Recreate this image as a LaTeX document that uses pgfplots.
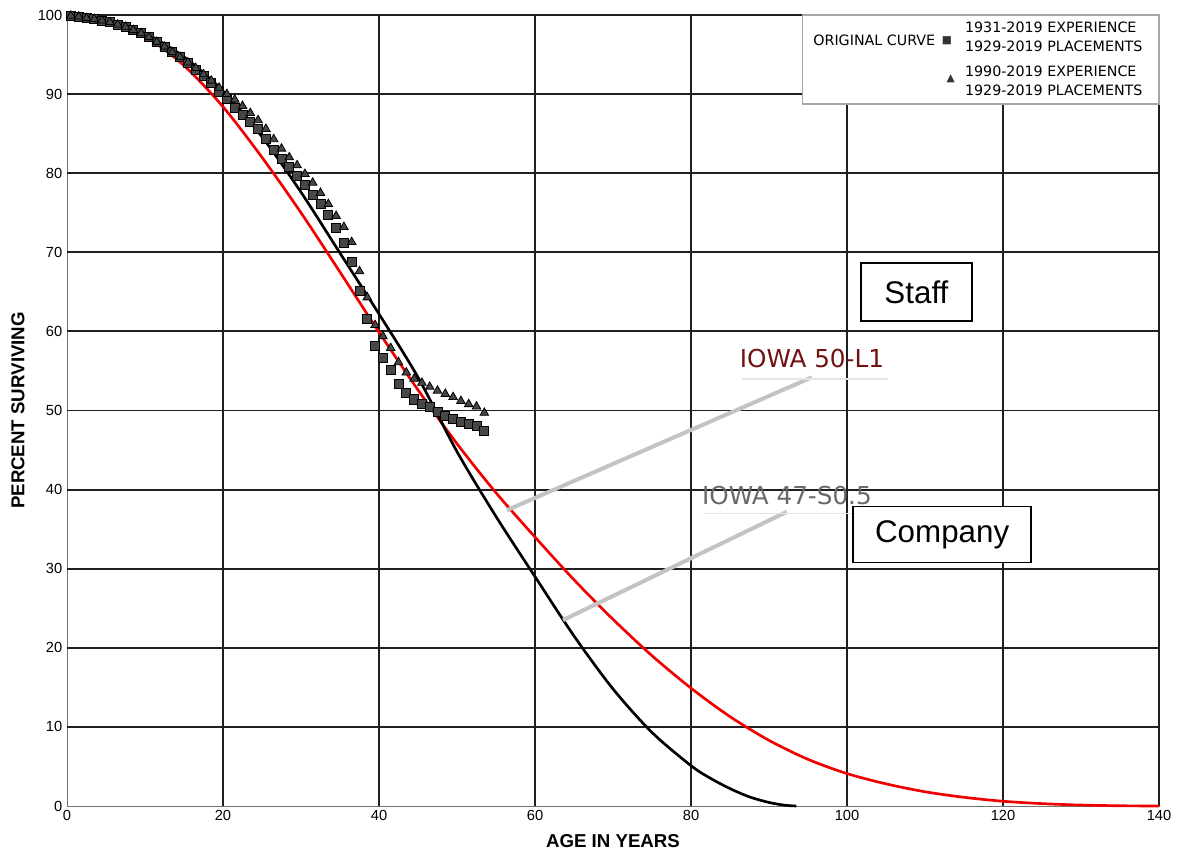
\documentclass[border=0pt]{standalone}
\usepackage{fontspec}
\setmainfont{Liberation Sans}
\newfontfamily\verdana{DejaVu Sans}
\usepackage{pgfplots}
\pgfplotsset{compat=1.18}
\definecolor{iowared}{RGB}{112,18,18}
\definecolor{iowagray}{RGB}{105,105,105}
\definecolor{leader}{RGB}{195,195,195}
\definecolor{curvered}{RGB}{240,0,0}
\begin{document}
\begin{tikzpicture}
\begin{axis}[
 scale only axis, width=819pt, height=593.25pt,
 xmin=0, xmax=140, ymin=0, ymax=100,
 xtick={0,20,40,60,80,100,120,140}, ytick={0,10,20,30,40,50,60,70,80,90,100},
 extra x ticks={20,40,60,80,100,120,140}, extra x tick labels={},
 extra y ticks={10,20,30,40,50,60,70,80,90,100}, extra y tick labels={},
 extra tick style={grid=major, major grid style={black!88, line width=1.4pt}},
 major tick length=0pt,
 axis line style={black!55, line width=0.6pt},
 x axis line style={draw=iowared!90, line width=1pt},
 tick label style={font=\fontsize{11}{13}\selectfont},
 /pgf/number format/assume math mode=true,
 xlabel={AGE IN YEARS}, ylabel={PERCENT SURVIVING},
 label style={font=\fontsize{14}{16}\selectfont\bfseries},
 xlabel style={yshift=-3.5pt},
 ylabel style={yshift=3pt},
 clip=false,
]
% IOWA 50-L1 (red)
\addplot[curvered, line width=2pt, smooth] coordinates {
(0,100) (5,99.3) (10,97.3) (15,93.6) (20,88.4) (25,82.0) (30,75.0) (35,67.5) (40,59.9) (45,52.6) (50,45.8) (55,39.6) (60,34.0) (65,28.6) (70,23.6) (75,19.0) (80,14.9) (85,11.3) (90,8.3) (95,5.9) (100,4.1) (105,2.8) (110,1.8) (115,1.1) (120,0.6) (125,0.3) (130,0.12) (135,0.03) (140,0)};
% IOWA 47-S0.5 (black)
\addplot[black, line width=2pt, smooth] coordinates {
(0,100) (5,99.5) (10,97.7) (15,94.7) (20,90.4) (25,84.6) (30,77.6) (35,69.9) (40,62.2) (45,54.2) (50,44.8) (55,36.6) (60,29.0) (65,21.5) (70,14.8) (75,9.3) (80,5.1) (82.5,3.5) (85,2.2) (87.5,1.15) (90,0.45) (92,0.1) (93.5,0)};
% 1931-2019 experience
\addplot[only marks, mark=square*, mark size=3.4pt, mark options={fill=black!72, draw=black, line width=0.6pt}] coordinates {
(0.5,99.9) (1.5,99.8) (2.5,99.6) (3.5,99.5) (4.5,99.3) (5.5,99.1) (6.5,98.8) (7.5,98.5) (8.5,98.1) (9.5,97.7)
(10.5,97.2) (11.5,96.6) (12.5,96.0) (13.5,95.3) (14.5,94.7) (15.5,93.9) (16.5,93.1) (17.5,92.3) (18.5,91.4) (19.5,90.3)
(20.5,89.4) (21.5,88.3) (22.5,87.4) (23.5,86.5) (24.5,85.6) (25.5,84.3) (26.5,83.0) (27.5,81.8) (28.5,80.8) (29.5,79.6)
(30.5,78.5) (31.5,77.3) (32.5,76.1) (33.5,74.7) (34.5,73.1) (35.5,71.2) (36.5,68.8) (37.5,65.1) (38.5,61.6) (39.5,58.2)
(40.5,56.7) (41.5,55.1) (42.5,53.4) (43.5,52.2) (44.5,51.4) (45.5,50.8) (46.5,50.4) (47.5,49.8) (48.5,49.3) (49.5,48.9)
(50.5,48.6) (51.5,48.3) (52.5,48.0) (53.5,47.4)};
% 1990-2019 experience
\addplot[only marks, mark=triangle*, mark size=3.7pt, mark options={fill=black!72, draw=black, line width=0.6pt}] coordinates {
(0.5,99.9) (1.5,99.8) (2.5,99.6) (3.5,99.5) (4.5,99.3) (5.5,99.1) (6.5,98.8) (7.5,98.5) (8.5,98.1) (9.5,97.7)
(10.5,97.2) (11.5,96.6) (12.5,96.0) (13.5,95.3) (14.5,94.7) (15.5,94.0) (16.5,93.3) (17.5,92.5) (18.5,91.7) (19.5,90.8)
(20.5,90.0) (21.5,89.3) (22.5,88.5) (23.5,87.6) (24.5,86.7) (25.5,85.6) (26.5,84.3) (27.5,83.1) (28.5,82.0) (29.5,81.0)
(30.5,79.9) (31.5,78.8) (32.5,77.5) (33.5,76.1) (34.5,74.6) (35.5,73.2) (36.5,71.3) (37.5,67.6) (38.5,64.3) (39.5,60.8)
(40.5,59.4) (41.5,57.9) (42.5,56.1) (43.5,54.8) (44.5,54.0) (45.5,53.5) (46.5,53.0) (47.5,52.5) (48.5,52.1) (49.5,51.7)
(50.5,51.2) (51.5,50.8) (52.5,50.5) (53.5,49.7)};
% leader lines and curve labels
\draw[leader, line width=3pt] (axis cs:56.4,37.4) -- (axis cs:95.5,54.2);
\draw[leader, line width=3pt] (axis cs:63.6,23.5) -- (axis cs:92.3,37.2);
\draw[black!10, line width=1pt] (axis cs:86.5,54.0) -- (axis cs:105.2,54.0);
\draw[black!10, line width=1pt] (axis cs:81.5,37.0) -- (axis cs:104.3,37.0);
\node[font=\verdana\fontsize{18.5}{20}\selectfont, text=iowared, inner sep=0pt] at (axis cs:95.5,56.6) {IOWA 50-L1};
\node[font=\verdana\fontsize{18.5}{20}\selectfont, text=iowagray, inner sep=0pt] at (axis cs:92.3,39.3) {IOWA 47-S0.5};
% boxes
\node[draw=black, line width=1.2pt, fill=white, minimum width=83pt, minimum height=43.5pt, font=\fontsize{23.5}{26}\selectfont] at (axis cs:108.9,65.0) {Staff};
\node[draw=black, line width=1.2pt, fill=white, minimum width=133.5pt, minimum height=42pt, font=\fontsize{23.5}{26}\selectfont] at (axis cs:112.2,34.3) {Company};
% legend
\draw[black!35, line width=0.8pt, fill=white] (axis cs:94.3,88.75) rectangle (axis cs:140,100);
\node[font=\verdana\fontsize{10.7}{14.25}\selectfont, inner sep=0pt] at (axis cs:103.5,96.8) {ORIGINAL CURVE};
\node[font=\verdana\fontsize{8}{10}\selectfont, text=black!80, inner sep=0pt] at (axis cs:112.8,96.8) {■};
\node[font=\verdana\fontsize{8}{10}\selectfont, text=black!80, inner sep=0pt] at (axis cs:113.3,92.0) {▲};
\node[font=\verdana\fontsize{10.7}{14.25}\selectfont, inner sep=0pt, anchor=west, align=left] at (axis cs:115.1,97.2) {1931-2019 EXPERIENCE\\1929-2019 PLACEMENTS};
\node[font=\verdana\fontsize{10.7}{14.25}\selectfont, inner sep=0pt, anchor=west, align=left] at (axis cs:115.1,91.7) {1990-2019 EXPERIENCE\\1929-2019 PLACEMENTS};
\end{axis}
\pgfresetboundingbox
\path (current axis.south west) ++(-50.25pt,-33.75pt) coordinate (bbsw);
\path (current axis.north east) ++(14.25pt,11.25pt) coordinate (bbne);
\path (bbsw) rectangle (bbne);
\end{tikzpicture}
\end{document}
